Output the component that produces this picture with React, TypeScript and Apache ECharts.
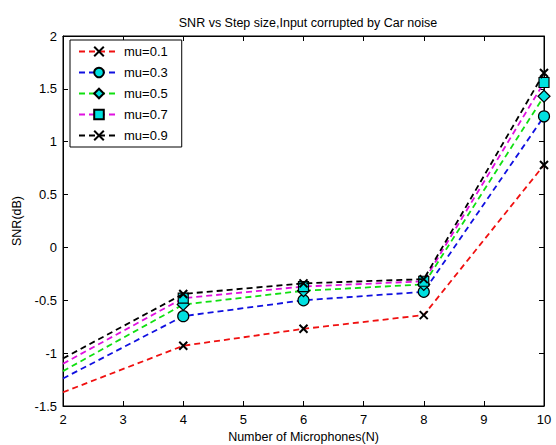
import React, { useEffect, useRef } from "react";
import * as echarts from "echarts";

const xValues = [2, 4, 6, 8, 10];
const seriesNames = ["mu=0.1", "mu=0.3", "mu=0.5", "mu=0.7", "mu=0.9"];
const mu01 = [-1.37, -0.93, -0.77, -0.64, 0.78];
const mu03 = [-1.24, -0.65, -0.5, -0.42, 1.24];
const mu05 = [-1.17, -0.54, -0.41, -0.35, 1.43];
const mu07 = [-1.1, -0.48, -0.37, -0.32, 1.56];
const mu09 = [-1.05, -0.44, -0.34, -0.3, 1.65];

const FONT = "Liberation Sans, Arial, sans-serif";
const X_MARK = "path://M0 0L10 10M10 0L0 10";

export default function App() {
  const ref = useRef<HTMLDivElement>(null);
  useEffect(() => {
    if (!ref.current) return;
    const chart = echarts.init(ref.current, null, { renderer: "svg" });
    const values = [mu01, mu03, mu05, mu07, mu09];
    const lineColors = ["#f01010", "#1010e0", "#10e010", "#e010e0", "#000000"];
    const symbols = [X_MARK, "circle", "diamond", "rect", X_MARK];
    const fills = ["#000000", "#00e0e0", "#00e0e0", "#00e0e0", "#000000"];
    const sizes = [8, 11, 12, 10, 8];
    const series = values.map((vals, i) => ({
      name: seriesNames[i],
      type: "line",
      data: vals.map((v, j) =>
        j === 0 ? { value: [xValues[j], v], symbol: "none" } : [xValues[j], v]
      ),
      symbol: symbols[i],
      symbolSize: sizes[i],
      showAllSymbol: true,
      lineStyle: { color: lineColors[i], width: 1.8, type: [6, 4] },
      itemStyle: {
        color: fills[i],
        borderColor: "#000",
        borderWidth: symbols[i] === X_MARK ? 2 : 1.2,
      },
      z: 2 + i,
    }));
    const axisLabel = { color: "#000", fontFamily: FONT, fontSize: 13 };
    const tick = { show: true, inside: true, length: 5, lineStyle: { color: "#000" } };
    const line = { show: true, onZero: false, lineStyle: { color: "#000" } };
    chart.setOption({
      animation: false,
      backgroundColor: "#fff",
      title: {
        text: "SNR vs Step size,Input corrupted by Car noise",
        left: 303,
        textAlign: "center",
        top: 11,
        textStyle: { color: "#000", fontFamily: FONT, fontSize: 12.5, fontWeight: "normal" },
      },
      legend: {
        orient: "vertical",
        left: 70,
        top: 40,
        padding: [5, 14, 5, 8],
        itemWidth: 40,
        itemHeight: 12,
        itemGap: 8,
        backgroundColor: "#fff",
        borderColor: "#000",
        borderWidth: 1,
        borderRadius: 0,
        data: seriesNames,
        textStyle: { color: "#000", fontFamily: FONT, fontSize: 13 },
      },
      grid: {
        left: 63,
        right: 12,
        top: 36,
        bottom: 39,
        outerBoundsMode: "none",
        containLabel: false,
        show: true,
        borderColor: "#000",
        borderWidth: 1,
      },
      xAxis: [
        {
          type: "value",
          min: 2,
          max: 10,
          interval: 1,
          name: "Number of Microphones(N)",
          nameLocation: "middle",
          nameGap: 23,
          nameTextStyle: { color: "#000", fontFamily: FONT, fontSize: 12.5 },
          axisLine: line,
          axisTick: tick,
          axisLabel: { ...axisLabel, margin: 7 },
          splitLine: { show: false },
        },
        {
          type: "value",
          position: "top",
          min: 2,
          max: 10,
          interval: 1,
          axisLine: line,
          axisTick: tick,
          axisLabel: { show: false },
          splitLine: { show: false },
        },
      ],
      yAxis: [
        {
          type: "value",
          min: -1.5,
          max: 2,
          interval: 0.5,
          name: "SNR(dB)",
          nameLocation: "middle",
          nameGap: 39,
          nameTextStyle: { color: "#000", fontFamily: FONT, fontSize: 12.5 },
          axisLine: line,
          axisTick: tick,
          axisLabel: { ...axisLabel, margin: 6 },
          splitLine: { show: false },
        },
        {
          type: "value",
          position: "right",
          min: -1.5,
          max: 2,
          interval: 0.5,
          axisLine: line,
          axisTick: tick,
          axisLabel: { show: false },
          splitLine: { show: false },
        },
      ],
      series,
    });
    return () => chart.dispose();
  }, []);
  return <div ref={ref} style={{ width: 556, height: 445, position: "absolute", left: 0, top: 0 }} />;
}
